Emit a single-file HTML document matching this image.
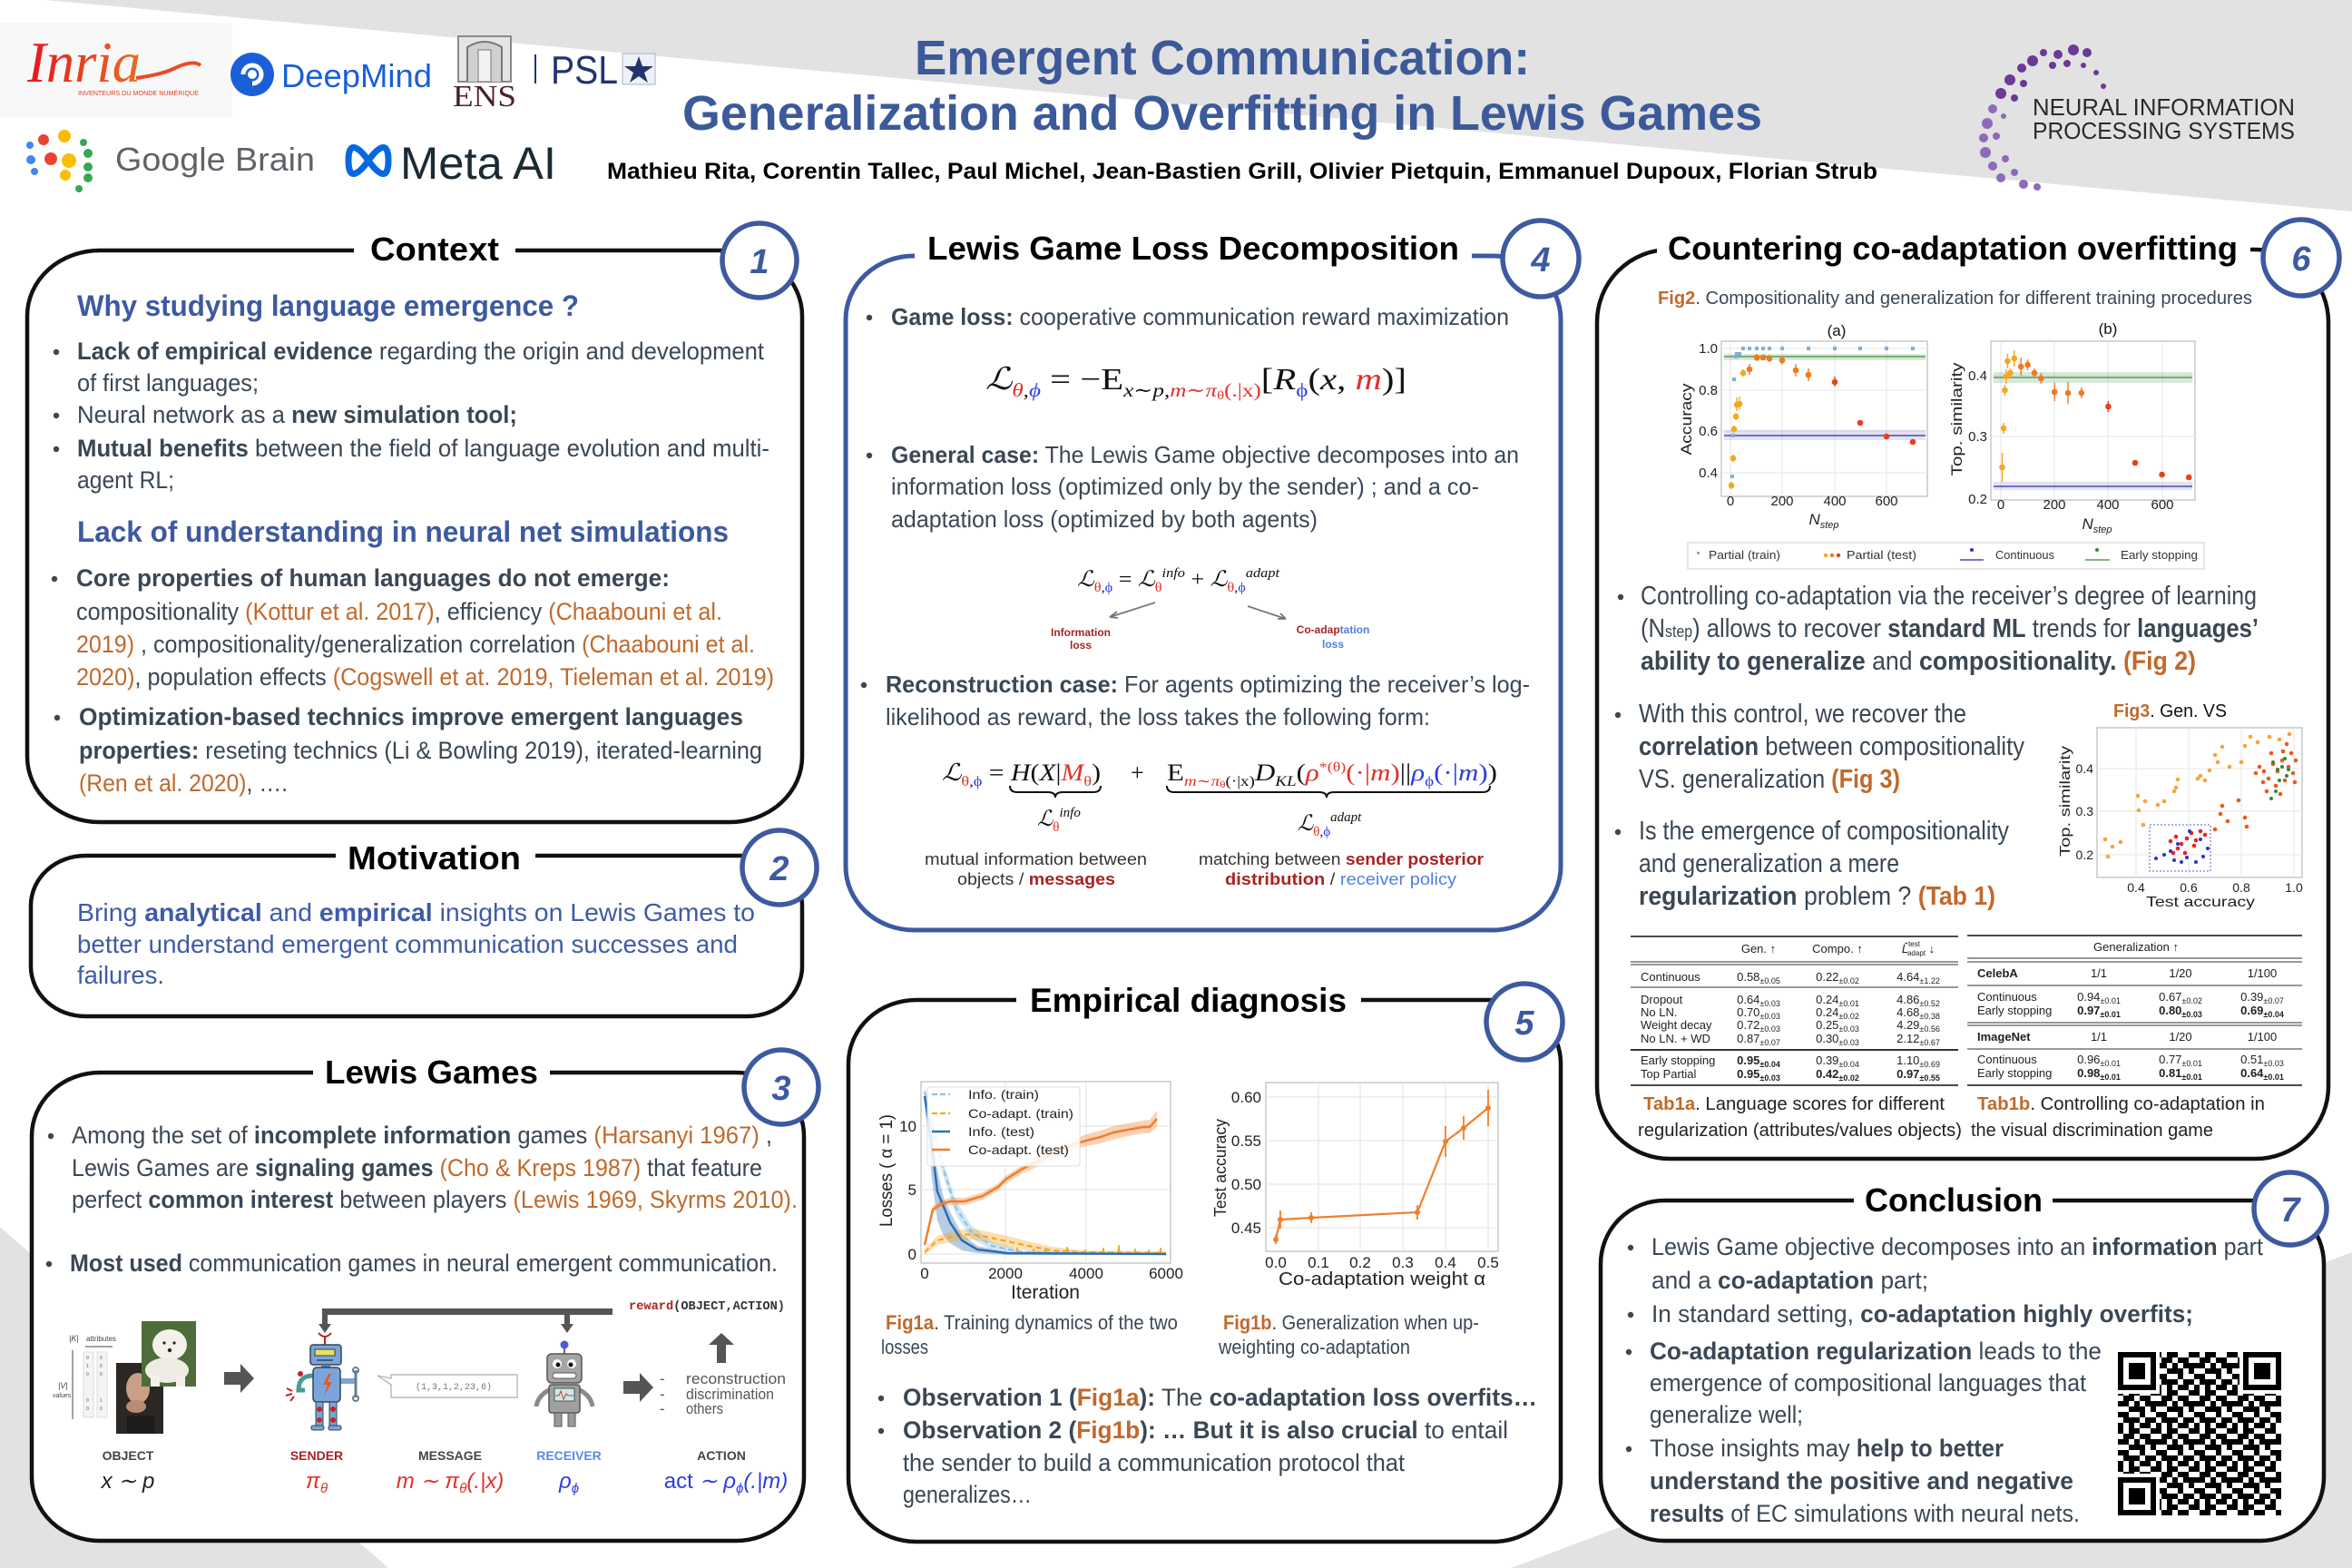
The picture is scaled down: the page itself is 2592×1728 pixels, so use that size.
<!DOCTYPE html>
<html><head><meta charset="utf-8"><style>
body{margin:0;background:#fff}svg{display:block}
text{font-family:"Liberation Sans",sans-serif}
.b{font-weight:bold}.o{fill:#c0692c}.bl{fill:#3d5aa0}.r{fill:#e0302a}.u{fill:#2b3de0}.dr{fill:#a82323}.lb{fill:#4f7fe0}
.ser{font-family:"Liberation Serif","DejaVu Serif",serif}
.mono{font-family:"Liberation Mono",monospace}
.k{fill:#000}
</style></head><body>
<svg xmlns="http://www.w3.org/2000/svg" width="2592" height="1728" viewBox="0 0 2592 1728">
<defs>
<pattern id="qr" width="42" height="42" patternUnits="userSpaceOnUse" x="2334" y="1490">
<path fill="#000" d="M0 0h6v6h-6zM12 0h6v6h-6zM18 0h6v6h-6zM36 0h6v6h-6zM6 6h6v6h-6zM12 6h6v6h-6zM24 6h6v6h-6zM30 6h6v6h-6zM0 12h6v6h-6zM6 12h6v6h-6zM18 12h6v6h-6zM30 12h6v6h-6zM36 12h6v6h-6zM12 18h6v6h-6zM18 18h6v6h-6zM24 18h6v6h-6zM36 18h6v6h-6zM0 24h6v6h-6zM6 24h6v6h-6zM24 24h6v6h-6zM6 30h6v6h-6zM12 30h6v6h-6zM18 30h6v6h-6zM30 30h6v6h-6zM36 30h6v6h-6zM0 36h6v6h-6zM12 36h6v6h-6zM24 36h6v6h-6zM30 36h6v6h-6z"/>
</pattern>
<linearGradient id="inr" x1="0" x2="1"><stop offset="0" stop-color="#e4151f"/><stop offset="1" stop-color="#ef6b24"/></linearGradient>
</defs>

<!-- background -->
<rect width="2592" height="1728" fill="#e2e2e2"/>
<polygon points="0,0 50,0 2592,233 2592,1380 1652,1733 428,1728 0,1352" fill="#fff"/>

<!-- ===== HEADER LOGOS ===== -->
<rect x="0" y="25" width="256" height="105" fill="#f8f8f8"/>
<text x="30" y="90" font-size="64" class="ser" font-style="italic" fill="url(#inr)" textLength="125" lengthAdjust="spacingAndGlyphs">Inria</text>
<path d="M150 86 q30 -4 45 -12 q18 -8 26 -2" stroke="#ec4a22" stroke-width="4" fill="none"/>
<text x="86" y="105" font-size="7" fill="#e23a22" textLength="133" lengthAdjust="spacingAndGlyphs">INVENTEURS DU MONDE NUMÉRIQUE</text>

<circle cx="278" cy="82" r="24" fill="#1b5fd8"/>
<path d="M268 82 a10 10 0 1 1 10 10" stroke="#fff" stroke-width="5" fill="none"/>
<circle cx="278" cy="82" r="5" fill="#fff"/>
<text x="310" y="96" font-size="36" fill="#1b5fd8" textLength="166" lengthAdjust="spacingAndGlyphs">DeepMind</text>

<rect x="505" y="40" width="58" height="50" fill="#e5e5e5" stroke="#8a8a8a" stroke-width="2"/>
<path d="M515 90 v-38 q19 -12 38 0 v38" fill="#d0d0d0" stroke="#777" stroke-width="2"/>
<rect x="527" y="55" width="14" height="35" fill="#f2f2f2" stroke="#777"/>
<text x="499" y="117" font-size="34" class="ser" fill="#4a1f35" textLength="70" lengthAdjust="spacingAndGlyphs">ENS</text>
<rect x="589" y="60" width="2" height="32" fill="#23336e"/>
<text x="607" y="92" font-size="44" fill="#23336e" textLength="74" lengthAdjust="spacingAndGlyphs">PSL</text>
<rect x="686" y="59" width="36" height="34" fill="#eef1f7" stroke="#aab3c8"/>
<polygon points="704,62 708,73 720,73 710,80 714,91 704,84 694,91 698,80 688,73 700,73" fill="#23336e"/>

<g>
<circle cx="33" cy="160" r="4" fill="#4285f4"/><circle cx="48" cy="154" r="6" fill="#ea4335"/><circle cx="71" cy="150" r="7" fill="#fbbc04"/><circle cx="92" cy="157" r="4" fill="#34a853"/>
<circle cx="34" cy="176" r="5" fill="#4285f4"/><circle cx="56" cy="175" r="7" fill="#ea4335"/><circle cx="76" cy="177" r="8" fill="#fbbc04"/><circle cx="97" cy="169" r="5" fill="#34a853"/>
<circle cx="38" cy="189" r="4" fill="#4285f4"/><circle cx="72" cy="193" r="6" fill="#fbbc04"/><circle cx="97" cy="184" r="5" fill="#34a853"/><circle cx="97" cy="196" r="5" fill="#34a853"/><circle cx="87" cy="208" r="4" fill="#34a853"/>
</g>
<text x="127" y="188" font-size="36" fill="#5f6368" textLength="220" lengthAdjust="spacingAndGlyphs">Google Brain</text>
<path d="M384 177 c0 -24 12 -14 22 0 c10 14 22 24 22 0 c0 -24 -12 -14 -22 0 c-10 14 -22 24 -22 0z" fill="none" stroke="#0668e1" stroke-width="7"/>
<text x="441" y="197" font-size="50" fill="#1c2b33" textLength="172" lengthAdjust="spacingAndGlyphs">Meta AI</text>

<!-- NeurIPS -->
<g fill="#6a3a94">
<circle cx="2300" cy="58" r="5"/><circle cx="2285" cy="55" r="6"/><circle cx="2268" cy="60" r="5"/><circle cx="2252" cy="58" r="4"/><circle cx="2240" cy="67" r="6"/><circle cx="2228" cy="75" r="5"/><circle cx="2262" cy="72" r="4"/><circle cx="2278" cy="70" r="4"/><circle cx="2296" cy="72" r="3"/><circle cx="2310" cy="80" r="3"/><circle cx="2318" cy="95" r="3"/>
<circle cx="2215" cy="88" r="6"/><circle cx="2230" cy="92" r="4"/><circle cx="2205" cy="103" r="6"/><circle cx="2220" cy="108" r="4"/>
</g>
<g fill="#8e6ab8">
<circle cx="2196" cy="120" r="5"/><circle cx="2190" cy="136" r="6"/><circle cx="2208" cy="128" r="3"/><circle cx="2186" cy="152" r="5"/><circle cx="2200" cy="150" r="4"/><circle cx="2188" cy="168" r="6"/><circle cx="2196" cy="183" r="5"/><circle cx="2210" cy="175" r="4"/><circle cx="2205" cy="196" r="5"/><circle cx="2220" cy="190" r="4"/><circle cx="2230" cy="203" r="5"/><circle cx="2245" cy="206" r="4"/>
</g>
<text x="2240" y="127" font-size="26" fill="#2a2a2a" textLength="289" lengthAdjust="spacingAndGlyphs">NEURAL INFORMATION</text>
<text x="2240" y="153" font-size="26" fill="#2a2a2a" textLength="289" lengthAdjust="spacingAndGlyphs">PROCESSING SYSTEMS</text>

<!-- Title -->
<text x="1008" y="82" font-size="54" class="b" fill="#3c5a9a" textLength="678" lengthAdjust="spacingAndGlyphs">Emergent Communication:</text>
<text x="752" y="143" font-size="54" class="b" fill="#3c5a9a" textLength="1190" lengthAdjust="spacingAndGlyphs">Generalization and Overfitting in Lewis Games</text>
<text x="669" y="197" font-size="25" class="b" fill="#000" textLength="1400" lengthAdjust="spacingAndGlyphs">Mathieu Rita, Corentin Tallec, Paul Michel, Jean-Bastien Grill, Olivier Pietquin, Emmanuel Dupoux, Florian Strub</text>

<!-- ===== PANEL BOXES ===== -->
<g stroke="#111" stroke-width="4.5">
<rect x="30" y="276" width="854" height="630" rx="80" ry="72" fill="#fff"/>
<rect x="34" y="943" width="850" height="177" rx="60" ry="55" fill="#fff"/>
<rect x="35" y="1182" width="851" height="516" rx="75" ry="70" fill="#fff"/>
<rect x="935" y="1102" width="785" height="597" rx="75" ry="70" fill="#fff"/>
<rect x="1760" y="275" width="806" height="1002" rx="80" ry="80" fill="#fff"/>
<rect x="1764" y="1323" width="797" height="375" rx="70" ry="70" fill="#fff"/>
</g>
<rect x="932" y="282" width="788" height="743" rx="75" ry="70" fill="#fff" stroke="#3d5aa0" stroke-width="5"/>

<!-- title masks -->
<g fill="#fff">
<rect x="390" y="266" width="178" height="20"/>
<rect x="370" y="933" width="220" height="20"/>
<rect x="345" y="1172" width="261" height="20"/>
<rect x="1008" y="272" width="614" height="20"/>
<rect x="1120" y="1092" width="380" height="20"/>
<rect x="1826" y="265" width="654" height="20"/>
<rect x="2043" y="1313" width="219" height="20"/>
</g>

<!-- titles -->
<g font-size="36" class="b" fill="#000">
<text x="408" y="287" textLength="142" lengthAdjust="spacingAndGlyphs">Context</text>
<text x="383" y="958" textLength="191" lengthAdjust="spacingAndGlyphs">Motivation</text>
<text x="358" y="1194" textLength="235" lengthAdjust="spacingAndGlyphs">Lewis Games</text>
<text x="1022" y="286" textLength="586" lengthAdjust="spacingAndGlyphs">Lewis Game Loss Decomposition</text>
<text x="1135" y="1115" font-size="37" textLength="349" lengthAdjust="spacingAndGlyphs">Empirical diagnosis</text>
<text x="1838" y="286" textLength="628" lengthAdjust="spacingAndGlyphs">Countering co-adaptation overfitting</text>
<text x="2055" y="1335" textLength="196" lengthAdjust="spacingAndGlyphs">Conclusion</text>
</g>

<!-- number circles -->
<g fill="#fff" stroke="#3d5aa0" stroke-width="5.5">
<circle cx="837" cy="287" r="41"/>
<circle cx="859" cy="956" r="41"/>
<circle cx="861" cy="1198" r="41"/>
<circle cx="1698" cy="285" r="42"/>
<circle cx="1680" cy="1126" r="42"/>
<circle cx="2536" cy="284" r="42"/>
<circle cx="2524" cy="1332" r="40"/>
</g>
<g font-size="38" class="b" fill="#3d5aa0" text-anchor="middle" font-style="italic">
<text x="837" y="301">1</text>
<text x="859" y="970">2</text>
<text x="861" y="1212">3</text>
<text x="1698" y="299">4</text>
<text x="1680" y="1140">5</text>
<text x="2536" y="298">6</text>
<text x="2524" y="1346">7</text>
</g>

<!-- ===== PANEL 1 CONTEXT ===== -->
<g fill="#3b4754" font-size="27">
<text x="85" y="348" font-size="32" class="b bl" textLength="553" lengthAdjust="spacingAndGlyphs">Why studying language emergence ?</text>
<text x="85" y="396" textLength="757" lengthAdjust="spacingAndGlyphs"><tspan class="b">Lack of empirical evidence</tspan> regarding the origin and development</text>
<text x="85" y="431" textLength="200" lengthAdjust="spacingAndGlyphs">of first languages;</text>
<text x="85" y="466" textLength="485" lengthAdjust="spacingAndGlyphs">Neural network as a <tspan class="b">new simulation tool;</tspan></text>
<text x="85" y="503" textLength="763" lengthAdjust="spacingAndGlyphs"><tspan class="b">Mutual benefits</tspan> between the field of language evolution and multi-</text>
<text x="85" y="538" textLength="107" lengthAdjust="spacingAndGlyphs">agent RL;</text>
<text x="85" y="597" font-size="32" class="b bl" textLength="718" lengthAdjust="spacingAndGlyphs">Lack of understanding in neural net simulations</text>
<text x="84" y="646" class="b" textLength="654" lengthAdjust="spacingAndGlyphs">Core properties of human languages do not emerge:</text>
<text x="84" y="683" textLength="712" lengthAdjust="spacingAndGlyphs">compositionality <tspan class="o">(Kottur et al. 2017)</tspan>, efficiency <tspan class="o">(Chaabouni et al.</tspan></text>
<text x="84" y="719" textLength="748" lengthAdjust="spacingAndGlyphs"><tspan class="o">2019)</tspan> , compositionality/generalization correlation <tspan class="o">(Chaabouni et al.</tspan></text>
<text x="84" y="755" textLength="769" lengthAdjust="spacingAndGlyphs"><tspan class="o">2020)</tspan>, population effects <tspan class="o">(Cogswell et at. 2019, Tieleman et al. 2019)</tspan></text>
<text x="87" y="799" class="b" textLength="732" lengthAdjust="spacingAndGlyphs">Optimization-based technics improve emergent languages</text>
<text x="87" y="836" textLength="753" lengthAdjust="spacingAndGlyphs"><tspan class="b">properties:</tspan> reseting technics (Li &amp; Bowling 2019), iterated-learning</text>
<text x="87" y="872" textLength="230" lengthAdjust="spacingAndGlyphs"><tspan class="o">(Ren et al. 2020)</tspan>, ….</text>
<circle cx="62" cy="388" r="3.2"/><circle cx="62" cy="458" r="3.2"/><circle cx="62" cy="495" r="3.2"/><circle cx="60" cy="638" r="3.2"/><circle cx="63" cy="791" r="3.2"/>
</g>

<!-- ===== PANEL 2 MOTIVATION ===== -->
<g fill="#3f5ba8" font-size="28">
<text x="85" y="1015" textLength="747" lengthAdjust="spacingAndGlyphs">Bring <tspan class="b">analytical</tspan> and <tspan class="b">empirical</tspan> insights on Lewis Games to</text>
<text x="85" y="1050" textLength="728" lengthAdjust="spacingAndGlyphs">better understand emergent communication successes and</text>
<text x="85" y="1084" textLength="96" lengthAdjust="spacingAndGlyphs">failures.</text>
</g>

<!-- ===== PANEL 3 LEWIS GAMES ===== -->
<g fill="#3b4754" font-size="27">
<text x="79" y="1260" textLength="772" lengthAdjust="spacingAndGlyphs">Among the set of <tspan class="b">incomplete information</tspan> games <tspan class="o">(Harsanyi 1967)</tspan> ,</text>
<text x="79" y="1296" textLength="761" lengthAdjust="spacingAndGlyphs">Lewis Games are <tspan class="b">signaling games</tspan> <tspan class="o">(Cho &amp; Kreps 1987)</tspan> that feature</text>
<text x="79" y="1331" textLength="800" lengthAdjust="spacingAndGlyphs">perfect <tspan class="b">common interest</tspan> between players <tspan class="o">(Lewis 1969, Skyrms 2010).</tspan></text>
<text x="77" y="1401" textLength="780" lengthAdjust="spacingAndGlyphs"><tspan class="b">Most used</tspan> communication games in neural emergent communication.</text>
<circle cx="56" cy="1252" r="3.2"/><circle cx="54" cy="1393" r="3.2"/>
</g>

<!-- diagram -->
<g>
<rect x="355" y="1442" width="320" height="7" fill="#555"/>
<rect x="355" y="1442" width="6" height="18" fill="#555"/>
<polygon points="351,1459 365,1459 358,1469" fill="#555"/>
<rect x="622" y="1442" width="6" height="18" fill="#555"/>
<polygon points="618,1459 632,1459 625,1469" fill="#555"/>
<text x="693" y="1443" font-size="14" class="mono b" fill="#333" textLength="172" lengthAdjust="spacingAndGlyphs"><tspan fill="#a82323">reward</tspan>(OBJECT,ACTION)</text>
<path d="M790 1502 v-20 h-9 l14 -13 l14 13 h-9 v20z" fill="#555"/>
<path d="M247 1512 h18 v-9 l15 16 l-15 16 v-9 h-18z" fill="#555"/>
<path d="M687 1522 h18 v-9 l15 16 l-15 16 v-9 h-18z" fill="#555"/>
<g font-size="17" fill="#555">
<text x="727" y="1525">-</text><text x="727" y="1542">-</text><text x="727" y="1558">-</text>
<text x="756" y="1525" textLength="110" lengthAdjust="spacingAndGlyphs">reconstruction</text>
<text x="756" y="1542" textLength="97" lengthAdjust="spacingAndGlyphs">discrimination</text>
<text x="756" y="1558" textLength="41" lengthAdjust="spacingAndGlyphs">others</text>
</g>
<path d="M431 1515 h139 v25 h-139 v-14 l-15 -10 l15 3z" fill="#fff" stroke="#bbb" stroke-width="1.5"/>
<text x="500" y="1531" font-size="10" class="mono" fill="#777" text-anchor="middle">(1,3,1,2,23,6)</text>

<!-- object matrix -->
<text x="76" y="1478" font-size="9" fill="#444" font-style="italic">|K|</text>
<text x="95" y="1478" font-size="8" fill="#444">attributes</text>
<path d="M94 1484 h30" stroke="#444" stroke-width="1"/>
<path d="M80 1488 v76" stroke="#444" stroke-width="1"/>
<text x="64" y="1530" font-size="9" fill="#444" font-style="italic">|V|</text>
<text x="58" y="1540" font-size="7" fill="#444">values</text>
<rect x="92" y="1490" width="11" height="72" fill="#f4f4f4" stroke="#ddd"/>
<rect x="107" y="1490" width="11" height="72" fill="#f4f4f4" stroke="#ddd"/>
<g font-size="5" fill="#555"><text x="95" y="1498">0</text><text x="95" y="1507">1</text><text x="95" y="1516">0</text><text x="95" y="1545">0</text><text x="95" y="1554">0</text><text x="110" y="1498">0</text><text x="110" y="1507">0</text><text x="110" y="1516">0</text><text x="110" y="1545">1</text><text x="110" y="1554">0</text></g>
<!-- man photo -->
<rect x="128" y="1502" width="52" height="78" fill="#2b2724"/>
<ellipse cx="152" cy="1530" rx="13" ry="17" fill="#c9a085"/>
<ellipse cx="150" cy="1550" rx="11" ry="7" fill="#b88d72"/>
<rect x="140" y="1560" width="30" height="20" fill="#1e1c1a"/>
<!-- dog photo -->
<rect x="156" y="1456" width="60" height="72" fill="#4f6d3b"/>
<ellipse cx="187" cy="1482" rx="19" ry="17" fill="#f4f1ea"/>
<ellipse cx="184" cy="1510" rx="24" ry="14" fill="#eeebe2"/>
<rect x="166" y="1516" width="10" height="12" fill="#f4f1ea"/><rect x="194" y="1516" width="10" height="12" fill="#f4f1ea"/>
<circle cx="181" cy="1480" r="1.6" fill="#222"/><circle cx="192" cy="1480" r="1.6" fill="#222"/><circle cx="187" cy="1488" r="2.2" fill="#222"/>

<!-- sender robot -->
<path d="M358 1482 v-10 M351 1469 q7 8 14 0" stroke="#b22" fill="none" stroke-width="2"/>
<rect x="342" y="1482" width="34" height="22" rx="3" fill="#7aa5da" stroke="#345" stroke-width="1.5"/>
<rect x="347" y="1487" width="22" height="7" fill="#e8e060" stroke="#345" stroke-width="1"/>
<path d="M349 1499 h18" stroke="#345" stroke-width="1.5"/>
<rect x="354" y="1504" width="10" height="4" fill="#5a7fb0"/>
<path d="M345 1516 q-16 0 -16 16 h7" stroke="#4a9a9a" stroke-width="5" fill="none"/>
<circle cx="331" cy="1514" r="3" fill="#c22"/><path d="M322 1533 l-6 -3 M322 1536 l-7 2 M324 1539 l-4 5" stroke="#c22" stroke-width="2"/>
<path d="M375 1522 h17" stroke="#7aa5da" stroke-width="6"/>
<path d="M392 1510 v30" stroke="#6b7d8f" stroke-width="3"/><circle cx="392" cy="1510" r="3" fill="none" stroke="#6b7d8f" stroke-width="2"/><circle cx="392" cy="1541" r="3" fill="none" stroke="#6b7d8f" stroke-width="2"/>
<rect x="345" y="1507" width="30" height="38" rx="4" fill="#7aa5da" stroke="#345" stroke-width="1.5"/>
<path d="M362 1514 l-6 12 h5 l-4 12 l9 -15 h-5 l4 -9z" fill="#e05a2a"/>
<rect x="348" y="1545" width="8" height="28" fill="#7aa5da" stroke="#345"/>
<rect x="363" y="1545" width="8" height="28" fill="#7aa5da" stroke="#345"/>
<circle cx="352" cy="1553" r="3" fill="#c22"/><circle cx="367" cy="1553" r="3" fill="#c22"/><circle cx="352" cy="1565" r="3" fill="#c22"/><circle cx="367" cy="1565" r="3" fill="#c22"/>
<rect x="343" y="1571" width="14" height="5" rx="2" fill="#7aa5da" stroke="#345"/><rect x="362" y="1571" width="14" height="5" rx="2" fill="#7aa5da" stroke="#345"/>

<!-- receiver robot -->
<path d="M622 1484 v8" stroke="#666" stroke-width="2"/>
<circle cx="622" cy="1482" r="4.5" fill="#4a5ad8"/>
<rect x="603" y="1492" width="38" height="32" rx="5" fill="#a5a5a5" stroke="#555" stroke-width="1.5"/>
<circle cx="614" cy="1503" r="5" fill="#fff"/><circle cx="630" cy="1503" r="5" fill="#fff"/>
<circle cx="615" cy="1504" r="2.5" fill="#111"/><circle cx="629" cy="1504" r="2.5" fill="#111"/>
<rect x="609" y="1513" width="26" height="6" rx="3" fill="#fff" stroke="#555"/>
<path d="M605 1532 q-12 6 -14 18 M639 1532 q12 6 14 18" stroke="#8a8a8a" stroke-width="5" fill="none"/>
<rect x="605" y="1526" width="34" height="31" rx="3" fill="#a0a0a0" stroke="#555" stroke-width="1.5"/>
<rect x="611" y="1530" width="22" height="14" fill="#c6ecec" stroke="#555"/>
<path d="M612 1538 l4 0 l2 -5 l3 9 l3 -6 l2 2 l6 0" stroke="#d33" fill="none" stroke-width="1"/>
<rect x="611" y="1557" width="8" height="15" fill="#9a9a9a" stroke="#555"/><rect x="626" y="1557" width="8" height="15" fill="#9a9a9a" stroke="#555"/>

<!-- labels -->
<g font-size="14" class="mono b" text-anchor="middle">
<text x="141" y="1609" fill="#444">OBJECT</text>
<text x="349" y="1609" fill="#a82323">SENDER</text>
<text x="496" y="1609" fill="#444">MESSAGE</text>
<text x="627" y="1609" fill="#5a8ae8">RECEIVER</text>
<text x="795" y="1609" fill="#444">ACTION</text>
</g>
<g font-size="24" class="ser" font-style="italic" text-anchor="middle">
<text x="141" y="1640" fill="#222">x ∼ p</text>
<text x="349" y="1640" fill="#e0302a">π<tspan font-size="15" dy="5">θ</tspan></text>
<text x="496" y="1640" fill="#e0302a">m ∼ π<tspan font-size="15" dy="5">θ</tspan><tspan dy="-5">(.|x)</tspan></text>
<text x="627" y="1640" fill="#2b3de0">ρ<tspan font-size="15" dy="5">ϕ</tspan></text>
<text x="800" y="1640" fill="#2b3de0"><tspan font-style="normal">act</tspan> ∼ ρ<tspan font-size="15" dy="5">ϕ</tspan><tspan dy="-5">(.|m)</tspan></text>
</g>
</g>

<!-- ===== PANEL 4 DECOMPOSITION ===== -->
<g fill="#3b4754" font-size="26">
<text x="982" y="358" textLength="681" lengthAdjust="spacingAndGlyphs"><tspan class="b">Game loss:</tspan> cooperative communication reward maximization</text>
<text x="982" y="510" textLength="692" lengthAdjust="spacingAndGlyphs"><tspan class="b">General case:</tspan> The Lewis Game objective decomposes into an</text>
<text x="982" y="545" textLength="648" lengthAdjust="spacingAndGlyphs">information loss (optimized only by the sender) ; and a co-</text>
<text x="982" y="581" textLength="470" lengthAdjust="spacingAndGlyphs">adaptation loss (optimized by both agents)</text>
<text x="976" y="763" textLength="710" lengthAdjust="spacingAndGlyphs"><tspan class="b">Reconstruction case:</tspan> For agents optimizing the receiver’s log-</text>
<text x="976" y="799" textLength="600" lengthAdjust="spacingAndGlyphs">likelihood as reward, the loss takes the following form:</text>
<circle cx="958" cy="350" r="3.2"/><circle cx="958" cy="502" r="3.2"/><circle cx="952" cy="755" r="3.2"/>
</g>
<text x="1086" y="429" class="ser" font-size="34" fill="#111" textLength="464" lengthAdjust="spacingAndGlyphs"><tspan font-style="italic">ℒ</tspan><tspan font-size="21" dy="8" fill="#e0302a" font-style="italic">θ</tspan><tspan font-size="21" dy="0">,</tspan><tspan font-size="21" fill="#2b3de0" font-style="italic">ϕ</tspan><tspan dy="-8"> = −E</tspan><tspan font-size="21" dy="8" font-style="italic">x∼p,</tspan><tspan font-size="21" fill="#e0302a" font-style="italic">m∼π</tspan><tspan font-size="14" dy="3" fill="#e0302a">θ</tspan><tspan font-size="21" dy="-3" fill="#e0302a">(.|x)</tspan><tspan dy="-8">[</tspan><tspan font-style="italic">R</tspan><tspan font-size="21" dy="8" fill="#2b3de0">ϕ</tspan><tspan dy="-8">(</tspan><tspan font-style="italic">x</tspan><tspan>, </tspan><tspan fill="#e0302a" font-style="italic">m</tspan><tspan>)]</tspan></text>
<text x="1187" y="646" class="ser" font-size="24" fill="#111" textLength="223" lengthAdjust="spacingAndGlyphs"><tspan font-style="italic">ℒ</tspan><tspan font-size="15" dy="6" fill="#e0302a">θ</tspan><tspan font-size="15">,</tspan><tspan font-size="15" fill="#2b3de0">ϕ</tspan><tspan dy="-6"> = </tspan><tspan font-style="italic">ℒ</tspan><tspan font-size="15" dy="6" fill="#e0302a">θ</tspan><tspan font-size="15" dy="-16" font-style="italic">info</tspan><tspan dy="10"> + </tspan><tspan font-style="italic">ℒ</tspan><tspan font-size="15" dy="6" fill="#e0302a">θ</tspan><tspan font-size="15">,</tspan><tspan font-size="15" fill="#2b3de0">ϕ</tspan><tspan font-size="15" dy="-16" font-style="italic">adapt</tspan></text>
<path d="M1273 664 L1223 680 M1223 680 l8 -6 M1223 680 l9 1" stroke="#777" stroke-width="1.8" fill="none"/>
<path d="M1375 668 L1417 682 M1417 682 l-9 0 M1417 682 l-6 -6" stroke="#777" stroke-width="1.8" fill="none"/>
<g font-size="12" class="b" text-anchor="middle">
<text x="1191" y="701" class="dr">Information</text>
<text x="1191" y="715" class="dr">loss</text>
<text x="1469" y="698"><tspan class="dr">Co-adap</tspan><tspan class="lb">tation</tspan></text>
<text x="1469" y="714" class="lb">loss</text>
</g>
<text x="1038" y="860" class="ser" font-size="26" fill="#111" textLength="175" lengthAdjust="spacingAndGlyphs"><tspan font-style="italic">ℒ</tspan><tspan font-size="16" dy="6" fill="#e0302a">θ</tspan><tspan font-size="16">,</tspan><tspan font-size="16" fill="#2b3de0">ϕ</tspan><tspan dy="-6"> = </tspan><tspan font-style="italic">H</tspan><tspan>(</tspan><tspan font-style="italic">X</tspan><tspan>|</tspan><tspan fill="#e0302a" font-style="italic">M</tspan><tspan font-size="16" dy="6" fill="#e0302a">θ</tspan><tspan dy="-6">)</tspan></text>
<text x="1246" y="860" class="ser" font-size="26" fill="#111">+</text>
<text x="1286" y="860" class="ser" font-size="26" fill="#111" textLength="364" lengthAdjust="spacingAndGlyphs"><tspan>E</tspan><tspan font-size="16" dy="6" fill="#e0302a" font-style="italic">m∼π</tspan><tspan font-size="11" dy="2" fill="#e0302a">θ</tspan><tspan font-size="16" dy="-2">(·|x)</tspan><tspan dy="-6" font-style="italic">D</tspan><tspan font-size="16" dy="6" font-style="italic">KL</tspan><tspan dy="-6">(</tspan><tspan fill="#e0302a" font-style="italic">ρ</tspan><tspan font-size="15" dy="-10" fill="#e0302a">*(θ)</tspan><tspan dy="10" fill="#e0302a">(·|</tspan><tspan fill="#e0302a" font-style="italic">m</tspan><tspan fill="#e0302a">)</tspan><tspan>||</tspan><tspan fill="#2b3de0" font-style="italic">ρ</tspan><tspan font-size="16" dy="6" fill="#2b3de0">ϕ</tspan><tspan dy="-6" fill="#2b3de0">(·|</tspan><tspan fill="#2b3de0" font-style="italic">m</tspan><tspan fill="#2b3de0">)</tspan><tspan>)</tspan></text>
<path d="M1113 866 q0 7 8 7 h34 q8 0 8 6 q0 -6 8 -6 h34 q8 0 8 -7" stroke="#111" stroke-width="2" fill="none"/>
<path d="M1286 866 q0 7 8 7 h160 q8 0 8 6 q0 -6 8 -6 h164 q8 0 8 -7" stroke="#111" stroke-width="2" fill="none"/>
<text x="1143" y="910" class="ser" font-size="24" fill="#111"><tspan font-style="italic">ℒ</tspan><tspan font-size="15" dy="6" fill="#e0302a">θ</tspan><tspan font-size="15" dy="-16" font-style="italic">info</tspan></text>
<text x="1430" y="915" class="ser" font-size="24" fill="#111"><tspan font-style="italic">ℒ</tspan><tspan font-size="15" dy="6" fill="#e0302a">θ</tspan><tspan font-size="15">,</tspan><tspan font-size="15" fill="#2b3de0">ϕ</tspan><tspan font-size="15" dy="-16" font-style="italic">adapt</tspan></text>
<g font-size="18" fill="#333">
<text x="1019" y="953" textLength="245" lengthAdjust="spacingAndGlyphs">mutual information between</text>
<text x="1055" y="975" textLength="174" lengthAdjust="spacingAndGlyphs">objects / <tspan class="b dr">messages</tspan></text>
<text x="1321" y="953" textLength="314" lengthAdjust="spacingAndGlyphs">matching between <tspan class="b dr">sender posterior</tspan></text>
<text x="1350" y="975" textLength="255" lengthAdjust="spacingAndGlyphs"><tspan class="b dr">distribution</tspan> / <tspan class="lb">receiver policy</tspan></text>
</g>

<!-- ===== PANEL 5 EMPIRICAL ===== -->
<!-- Fig1a -->
<g>
<rect x="1015" y="1192" width="275" height="200" fill="#fff" stroke="#bbb" stroke-width="1.2"/>
<g stroke="#e6e6e6" stroke-width="1.2">
<path d="M1108 1192v200M1197 1192v200M1015 1382h275M1015 1311h275M1015 1241h275"/>
</g>
<polygon points="1019,1200 1027,1240 1033,1290 1040,1320 1047,1335 1060,1360 1077,1373 1110,1380 1285,1381 1285,1383 1110,1383 1077,1381 1060,1378 1047,1370 1040,1362 1033,1345 1027,1300 1019,1215" fill="#2f6db5" opacity="0.35"/>
<polygon points="1019,1198 1037,1272 1053,1322 1070,1350 1093,1368 1127,1378 1285,1381 1285,1383 1127,1382 1093,1378 1070,1364 1053,1338 1037,1288 1019,1208" fill="#8cc4e8" opacity="0.4"/>
<polygon points="1019,1376 1033,1362 1053,1356 1070,1354 1087,1357 1110,1362 1133,1368 1160,1374 1193,1378 1285,1379 1285,1383 1193,1382 1160,1382 1133,1378 1110,1374 1087,1369 1070,1366 1053,1368 1033,1372 1019,1383" fill="#f5a623" opacity="0.35"/>
<polygon points="1019,1368 1028,1329 1037,1323 1047,1320 1063,1320 1083,1314 1100,1304 1108,1296 1127,1284 1147,1273 1167,1263 1187,1254 1197,1250 1213,1246 1227,1241 1243,1238 1260,1235 1267,1234 1275,1224 1275,1242 1267,1249 1260,1249 1243,1252 1227,1256 1213,1260 1197,1263 1187,1266 1167,1274 1147,1284 1127,1293 1108,1304 1100,1312 1083,1322 1063,1328 1047,1328 1037,1330 1028,1337 1019,1375" fill="#f07f2a" opacity="0.35"/>
<polyline points="1019,1203 1037,1280 1053,1330 1070,1357 1093,1373 1127,1380 1285,1382" fill="none" stroke="#8cc4e8" stroke-width="2.2" stroke-dasharray="6,4"/>
<polyline points="1019,1380 1033,1367 1053,1362 1070,1360 1087,1363 1110,1368 1133,1373 1160,1378 1193,1380 1285,1381" fill="none" stroke="#f5a623" stroke-width="2.2" stroke-dasharray="6,4"/>
<path d="M1150 1381 l2 -5 l2 5 M1175 1381 l1 -7 l2 7 M1195 1381 l1 -4 l1 4 M1215 1381 l1 -6 l1 6 M1232 1381 l1 -9 l1 9 M1250 1381 l1 -5 l1 5 M1265 1381 l1 -4 l1 4 M1278 1381 l1 -6 l1 6 M1120 1380 l1 -5 l1 5 M1138 1380 l1 -4 l1 4" stroke="#f5a623" stroke-width="1.3" fill="none"/>
<polyline points="1019,1208 1027,1263 1033,1313 1047,1347 1060,1367 1077,1377 1110,1381 1285,1382" fill="none" stroke="#2f6db5" stroke-width="2.5"/>
<polyline points="1019,1372 1028,1333 1037,1327 1047,1324 1063,1324 1083,1318 1100,1308 1108,1300 1127,1288 1147,1278 1167,1268 1187,1260 1197,1257 1213,1253 1227,1248 1243,1245 1260,1242 1267,1242 1275,1233" fill="none" stroke="#f07f2a" stroke-width="2.5"/>
<rect x="1022" y="1198" width="168" height="87" rx="3" fill="#fff" fill-opacity="0.85" stroke="#ddd"/>
<path d="M1027 1206h20" stroke="#8cc4e8" stroke-width="2.2" stroke-dasharray="6,3"/>
<path d="M1027 1227h20" stroke="#f5a623" stroke-width="2.2" stroke-dasharray="6,3"/>
<path d="M1027 1247h20" stroke="#2f6db5" stroke-width="2.5"/>
<path d="M1027 1267h20" stroke="#f07f2a" stroke-width="2.5"/>
<g font-size="14" fill="#222">
<text x="1067" y="1211" textLength="78" lengthAdjust="spacingAndGlyphs">Info. (train)</text>
<text x="1067" y="1232" textLength="116" lengthAdjust="spacingAndGlyphs">Co-adapt. (train)</text>
<text x="1067" y="1252" textLength="73" lengthAdjust="spacingAndGlyphs">Info. (test)</text>
<text x="1067" y="1272" textLength="111" lengthAdjust="spacingAndGlyphs">Co-adapt. (test)</text>
</g>
<g font-size="17" fill="#222">
<text x="1010" y="1388" text-anchor="end">0</text>
<text x="1010" y="1317" text-anchor="end">5</text>
<text x="1010" y="1247" text-anchor="end">10</text>
<text x="1019" y="1409" text-anchor="middle">0</text>
<text x="1108" y="1409" text-anchor="middle">2000</text>
<text x="1197" y="1409" text-anchor="middle">4000</text>
<text x="1285" y="1409" text-anchor="middle">6000</text>
<text x="1152" y="1431" text-anchor="middle" font-size="21">Iteration</text>
<text transform="translate(983 1290) rotate(-90)" text-anchor="middle" font-size="19" textLength="124" lengthAdjust="spacingAndGlyphs">Losses ( α = 1)</text>
</g>
</g>
<!-- Fig1b -->
<g>
<rect x="1395" y="1193" width="256" height="186" fill="#fff" stroke="#bbb" stroke-width="1.2"/>
<g stroke="#e6e6e6" stroke-width="1.2">
<path d="M1453 1193v186M1499 1193v186M1546 1193v186M1593 1193v186M1640 1193v186M1395 1209h256M1395 1257h256M1395 1305h256M1395 1353h256"/>
</g>
<polyline points="1406,1366 1411,1344 1445,1342 1562,1336 1593,1258 1613,1243 1640,1221" fill="none" stroke="#f07f2a" stroke-width="2.2"/>
<g stroke="#f07f2a" stroke-width="1.8">
<path d="M1406 1361v10M1411 1334v20M1445 1336v12M1562 1328v16M1593 1241v34M1613 1230v26M1640 1201v40"/>
</g>
<g fill="#f07f2a"><circle cx="1406" cy="1366" r="3"/><circle cx="1411" cy="1344" r="3"/><circle cx="1445" cy="1342" r="3"/><circle cx="1562" cy="1336" r="3"/><circle cx="1593" cy="1258" r="3"/><circle cx="1613" cy="1243" r="3"/><circle cx="1640" cy="1221" r="3"/></g>
<g font-size="17" fill="#222">
<text x="1390" y="1215" text-anchor="end">0.60</text>
<text x="1390" y="1263" text-anchor="end">0.55</text>
<text x="1390" y="1311" text-anchor="end">0.50</text>
<text x="1390" y="1359" text-anchor="end">0.45</text>
<text x="1406" y="1397" text-anchor="middle">0.0</text>
<text x="1453" y="1397" text-anchor="middle">0.1</text>
<text x="1499" y="1397" text-anchor="middle">0.2</text>
<text x="1546" y="1397" text-anchor="middle">0.3</text>
<text x="1593" y="1397" text-anchor="middle">0.4</text>
<text x="1640" y="1397" text-anchor="middle">0.5</text>
<text x="1409" y="1416" font-size="20" textLength="228" lengthAdjust="spacingAndGlyphs">Co-adaptation weight α</text>
<text transform="translate(1351 1287) rotate(-90)" text-anchor="middle" font-size="18" textLength="108" lengthAdjust="spacingAndGlyphs">Test accuracy</text>
</g>
</g>
<g fill="#3b4754" font-size="22">
<text x="976" y="1465" textLength="322" lengthAdjust="spacingAndGlyphs"><tspan class="b o">Fig1a</tspan>. Training dynamics of the two</text>
<text x="971" y="1492" textLength="52" lengthAdjust="spacingAndGlyphs">losses</text>
<text x="1348" y="1465" textLength="282" lengthAdjust="spacingAndGlyphs"><tspan class="b o">Fig1b</tspan>. Generalization when up-</text>
<text x="1343" y="1492" textLength="211" lengthAdjust="spacingAndGlyphs">weighting co-adaptation</text>
</g>
<g fill="#3b4754" font-size="27">
<text x="995" y="1549" textLength="699" lengthAdjust="spacingAndGlyphs"><tspan class="b">Observation 1 (</tspan><tspan class="b o">Fig1a</tspan><tspan class="b">):</tspan> The <tspan class="b">co-adaptation loss overfits…</tspan></text>
<text x="995" y="1585" textLength="667" lengthAdjust="spacingAndGlyphs"><tspan class="b">Observation 2 (</tspan><tspan class="b o">Fig1b</tspan><tspan class="b">): … But it is also crucial</tspan> to entail</text>
<text x="995" y="1621" textLength="553" lengthAdjust="spacingAndGlyphs">the sender to build a communication protocol that</text>
<text x="995" y="1656" textLength="142" lengthAdjust="spacingAndGlyphs">generalizes…</text>
<circle cx="971" cy="1541" r="3.2"/><circle cx="971" cy="1577" r="3.2"/>
</g>

<!-- ===== PANEL 6 COUNTERING ===== -->
<text x="1827" y="335" font-size="20" fill="#3b4754" textLength="655" lengthAdjust="spacingAndGlyphs"><tspan class="b o">Fig2</tspan>. Compositionality and generalization for different training procedures</text>
<!-- Fig2a -->
<g>
<text x="2024" y="370" font-size="17" fill="#111" text-anchor="middle">(a)</text>
<text x="2323" y="368" font-size="17" fill="#111" text-anchor="middle">(b)</text>
<rect x="1897" y="376" width="227" height="171" fill="#fff" stroke="#bbb" stroke-width="1.2"/>
<g stroke="#e6e6e6" stroke-width="1.1"><path d="M1907 376v171M1964 376v171M2022 376v171M2079 376v171M1897 384h227M1897 430h227M1897 475h227M1897 521h227"/></g>
<rect x="1900" y="390" width="222" height="7" fill="#6aa86a" opacity="0.25"/>
<path d="M1900 393h222" stroke="#5a9a5a" stroke-width="1.6"/>
<rect x="1900" y="474" width="222" height="11" fill="#6d6fc8" opacity="0.2"/>
<path d="M1900 480h222" stroke="#4a4cb0" stroke-width="1.6"/>
<g fill="#7fb0d8">
<rect x="1907" y="523" width="4" height="4"/><rect x="1908" y="478" width="4" height="4"/><rect x="1909" y="416" width="4" height="4"/><rect x="1911" y="391" width="4" height="4"/><rect x="1912" y="388" width="4" height="4"/><rect x="1914" y="388" width="4" height="4"/><rect x="1915" y="388" width="4" height="4"/><rect x="1919" y="382" width="4" height="4"/><rect x="1926" y="382" width="4" height="4"/><rect x="1934" y="382" width="4" height="4"/><rect x="1941" y="382" width="4" height="4"/><rect x="1948" y="382" width="4" height="4"/><rect x="1962" y="382" width="4" height="4"/><rect x="1991" y="382" width="4" height="4"/><rect x="2020" y="382" width="4" height="4"/><rect x="2048" y="382" width="4" height="4"/><rect x="2077" y="382" width="4" height="4"/><rect x="2106" y="382" width="4" height="4"/>
</g>
<g stroke-width="1.4">
<g stroke="#f5a623" fill="#f5a623">
<path d="M1908 531v8M1910 501v8M1911 469v8M1913 455v8M1914 438v15M1917 437v15M1921 407v8"/>
<circle cx="1908" cy="535" r="2.6"/><circle cx="1910" cy="505" r="2.6"/><circle cx="1911" cy="473" r="2.6"/><circle cx="1913" cy="459" r="2.6"/><circle cx="1914" cy="446" r="2.6"/><circle cx="1917" cy="445" r="2.6"/><circle cx="1921" cy="411" r="2.6"/>
</g>
<g stroke="#ee7a22" fill="#ee7a22">
<path d="M1928 401v12M1936 390v8M1943 391v6M1950 391v8M1964 392v10M1979 401v14M1993 406v14"/>
<circle cx="1928" cy="407" r="2.6"/><circle cx="1936" cy="394" r="2.6"/><circle cx="1943" cy="394" r="2.6"/><circle cx="1950" cy="395" r="2.6"/><circle cx="1964" cy="397" r="2.6"/><circle cx="1979" cy="408" r="2.6"/><circle cx="1993" cy="413" r="2.6"/>
</g>
<g stroke="#e8401c" fill="#e8401c">
<path d="M2022 415v11M2050 463v6M2079 478v6M2108 484v6"/>
<circle cx="2022" cy="421" r="2.6"/><circle cx="2050" cy="466" r="2.6"/><circle cx="2079" cy="481" r="2.6"/><circle cx="2108" cy="487" r="2.6"/>
</g>
</g>
<g font-size="15" fill="#222">
<text x="1893" y="389" text-anchor="end">1.0</text><text x="1893" y="435" text-anchor="end">0.8</text><text x="1893" y="480" text-anchor="end">0.6</text><text x="1893" y="526" text-anchor="end">0.4</text>
<text x="1907" y="557" text-anchor="middle">0</text><text x="1964" y="557" text-anchor="middle">200</text><text x="2022" y="557" text-anchor="middle">400</text><text x="2079" y="557" text-anchor="middle">600</text>
<text x="2010" y="578" text-anchor="middle" font-size="17" font-style="italic">N<tspan font-size="11" dy="4">step</tspan></text>
<text transform="translate(1864 462) rotate(-90)" text-anchor="middle" font-size="17" textLength="79" lengthAdjust="spacingAndGlyphs">Accuracy</text>
</g>
</g>
<!-- Fig2b -->
<g>
<rect x="2194" y="376" width="225" height="175" fill="#fff" stroke="#bbb" stroke-width="1.2"/>
<g stroke="#e6e6e6" stroke-width="1.1"><path d="M2205 376v175M2264 376v175M2323 376v175M2383 376v175M2194 414h225M2194 481h225"/></g>
<rect x="2197" y="410" width="219" height="12" fill="#6aa86a" opacity="0.25"/>
<path d="M2197 416h219" stroke="#5a9a5a" stroke-width="1.6"/>
<rect x="2197" y="531" width="219" height="9" fill="#6d6fc8" opacity="0.2"/>
<path d="M2197 536h219" stroke="#4a4cb0" stroke-width="1.6"/>
<g stroke-width="1.4">
<g stroke="#f5a623" fill="#f5a623">
<path d="M2206.5 499v32M2208 466v12M2209.4 424v12M2211 407v16M2212.4 390v16M2215.4 406v10M2219.8 386v18"/>
<circle cx="2206.5" cy="515" r="2.6"/><circle cx="2208" cy="472" r="2.6"/><circle cx="2209.4" cy="430" r="2.6"/><circle cx="2211" cy="415" r="2.6"/><circle cx="2212.4" cy="398" r="2.6"/><circle cx="2215.4" cy="411" r="2.6"/><circle cx="2219.8" cy="395" r="2.6"/>
</g>
<g stroke="#ee7a22" fill="#ee7a22">
<path d="M2227.2 394v20M2234.6 396v12M2242 406v10M2249.4 411v12M2264.2 422v20M2279 421v24M2293.8 427v12"/>
<circle cx="2227.2" cy="404" r="2.6"/><circle cx="2234.6" cy="402" r="2.6"/><circle cx="2242" cy="411" r="2.6"/><circle cx="2249.4" cy="417" r="2.6"/><circle cx="2264.2" cy="432" r="2.6"/><circle cx="2279" cy="433" r="2.6"/><circle cx="2293.8" cy="433" r="2.6"/>
</g>
<g stroke="#e8401c" fill="#e8401c">
<path d="M2323.4 442v12M2353 507v6M2382.6 520v6M2412.2 523v6"/>
<circle cx="2323.4" cy="448" r="2.6"/><circle cx="2353" cy="510" r="2.6"/><circle cx="2382.6" cy="523" r="2.6"/><circle cx="2412.2" cy="526" r="2.6"/>
</g>
</g>
<g font-size="15" fill="#222">
<text x="2190" y="419" text-anchor="end">0.4</text><text x="2190" y="486" text-anchor="end">0.3</text><text x="2190" y="555" text-anchor="end">0.2</text>
<text x="2205" y="561" text-anchor="middle">0</text><text x="2264" y="561" text-anchor="middle">200</text><text x="2323" y="561" text-anchor="middle">400</text><text x="2383" y="561" text-anchor="middle">600</text>
<text x="2311" y="583" text-anchor="middle" font-size="17" font-style="italic">N<tspan font-size="11" dy="4">step</tspan></text>
<text transform="translate(2162 462) rotate(-90)" text-anchor="middle" font-size="17" textLength="125" lengthAdjust="spacingAndGlyphs">Top. similarity</text>
</g>
</g>
<!-- Fig2 legend -->
<rect x="1860" y="598" width="569" height="29" fill="#fff" stroke="#ccc"/>
<rect x="1870" y="608" width="3" height="3" fill="#7fb0d8"/>
<circle cx="2012" cy="612" r="2.2" fill="#f5a623"/><circle cx="2019" cy="612" r="2.2" fill="#ee7a22"/><circle cx="2026" cy="612" r="2.2" fill="#e8401c"/>
<path d="M2160 617h26" stroke="#4a4cb0" stroke-width="1.6"/><circle cx="2173" cy="606" r="2" fill="#2a35c8"/>
<path d="M2298 617h27" stroke="#5a9a5a" stroke-width="1.6"/><circle cx="2311" cy="606" r="2" fill="#2e8b2e"/>
<g font-size="13" fill="#333">
<text x="1883" y="616" textLength="79" lengthAdjust="spacingAndGlyphs">Partial (train)</text>
<text x="2035" y="616" textLength="77" lengthAdjust="spacingAndGlyphs">Partial (test)</text>
<text x="2199" y="616" textLength="65" lengthAdjust="spacingAndGlyphs">Continuous</text>
<text x="2337" y="616" textLength="85" lengthAdjust="spacingAndGlyphs">Early stopping</text>
</g>

<g fill="#3b4754" font-size="29">
<text x="1808" y="666" textLength="679" lengthAdjust="spacingAndGlyphs">Controlling co-adaptation via the receiver’s degree of learning</text>
<text x="1808" y="702" textLength="681" lengthAdjust="spacingAndGlyphs">(N<tspan font-size="18">step</tspan>) allows to recover <tspan class="b">standard ML</tspan> trends for <tspan class="b">languages’</tspan></text>
<text x="1808" y="738" textLength="612" lengthAdjust="spacingAndGlyphs"><tspan class="b">ability to generalize</tspan> and <tspan class="b">compositionality.</tspan> <tspan class="b o">(Fig 2)</tspan></text>
<text x="1806" y="796" textLength="361" lengthAdjust="spacingAndGlyphs">With this control, we recover the</text>
<text x="1806" y="832" textLength="425" lengthAdjust="spacingAndGlyphs"><tspan class="b">correlation</tspan> between compositionality</text>
<text x="1806" y="868" textLength="288" lengthAdjust="spacingAndGlyphs">VS. generalization <tspan class="b o">(Fig 3)</tspan></text>
<text x="1806" y="925" textLength="408" lengthAdjust="spacingAndGlyphs">Is the emergence of compositionality</text>
<text x="1806" y="961" textLength="287" lengthAdjust="spacingAndGlyphs">and generalization a mere</text>
<text x="1806" y="997" textLength="393" lengthAdjust="spacingAndGlyphs"><tspan class="b">regularization</tspan> problem ? <tspan class="b o">(Tab 1)</tspan></text>
<circle cx="1786" cy="658" r="3.2"/><circle cx="1783" cy="788" r="3.2"/><circle cx="1783" cy="917" r="3.2"/>
</g>

<!-- Fig3 -->
<text x="2329" y="790" font-size="20" fill="#111" textLength="125" lengthAdjust="spacingAndGlyphs"><tspan class="b o">Fig3</tspan>. Gen. VS</text>
<rect x="2311" y="802" width="226" height="165" fill="#fff" stroke="#bbb" stroke-width="1.2"/>
<g stroke="#e6e6e6" stroke-width="1.1"><path d="M2354 802v165M2412 802v165M2470 802v165M2528 802v165M2311 847h226M2311 894h226M2311 942h226"/></g>
<g fill="#f7a43a">
<circle cx="2320" cy="925" r="2.3"/><circle cx="2328" cy="933" r="2.3"/><circle cx="2337" cy="928" r="2.3"/><circle cx="2323" cy="944" r="2.3"/><circle cx="2356" cy="877" r="2.3"/><circle cx="2357" cy="893" r="2.3"/><circle cx="2364" cy="883" r="2.3"/><circle cx="2378" cy="887" r="2.3"/><circle cx="2385" cy="883" r="2.3"/><circle cx="2362" cy="909" r="2.3"/><circle cx="2398" cy="868" r="2.3"/><circle cx="2400" cy="859" r="2.3"/><circle cx="2396" cy="872" r="2.3"/><circle cx="2422" cy="858" r="2.3"/><circle cx="2425" cy="855" r="2.3"/><circle cx="2430" cy="860" r="2.3"/><circle cx="2435" cy="849" r="2.3"/><circle cx="2441" cy="832" r="2.3"/><circle cx="2444" cy="840" r="2.3"/><circle cx="2449" cy="823" r="2.3"/><circle cx="2457" cy="845" r="2.3"/><circle cx="2474" cy="822" r="2.3"/><circle cx="2480" cy="812" r="2.3"/><circle cx="2501" cy="812" r="2.3"/><circle cx="2523" cy="809" r="2.3"/><circle cx="2470" cy="840" r="2.3"/><circle cx="2488" cy="818" r="2.3"/><circle cx="2512" cy="815" r="2.3"/>
</g>
<g fill="#ec5a1e">
<circle cx="2490" cy="845" r="2.3"/><circle cx="2495" cy="850" r="2.3"/><circle cx="2500" cy="858" r="2.3"/><circle cx="2505" cy="842" r="2.3"/><circle cx="2510" cy="850" r="2.3"/><circle cx="2515" cy="838" r="2.3"/><circle cx="2518" cy="860" r="2.3"/><circle cx="2522" cy="845" r="2.3"/><circle cx="2527" cy="852" r="2.3"/><circle cx="2530" cy="838" r="2.3"/><circle cx="2508" cy="866" r="2.3"/><circle cx="2498" cy="872" r="2.3"/><circle cx="2513" cy="875" r="2.3"/><circle cx="2525" cy="830" r="2.3"/><circle cx="2520" cy="820" r="2.3"/><circle cx="2486" cy="852" r="2.3"/><circle cx="2494" cy="862" r="2.3"/><circle cx="2503" cy="830" r="2.3"/><circle cx="2529" cy="862" r="2.3"/><circle cx="2516" cy="828" r="2.3"/>
<circle cx="2441" cy="914" r="2.3"/><circle cx="2449" cy="888" r="2.3"/><circle cx="2467" cy="882" r="2.3"/><circle cx="2474" cy="901" r="2.3"/><circle cx="2476" cy="911" r="2.3"/><circle cx="2455" cy="905" r="2.3"/><circle cx="2447" cy="897" r="2.3"/>
</g>
<g fill="#e8241e">
<circle cx="2392" cy="927" r="2.3"/><circle cx="2398" cy="922" r="2.3"/><circle cx="2404" cy="930" r="2.3"/><circle cx="2410" cy="924" r="2.3"/><circle cx="2415" cy="918" r="2.3"/><circle cx="2420" cy="926" r="2.3"/><circle cx="2400" cy="935" r="2.3"/><circle cx="2408" cy="940" r="2.3"/><circle cx="2425" cy="916" r="2.3"/><circle cx="2430" cy="920" r="2.3"/><circle cx="2395" cy="940" r="2.3"/><circle cx="2418" cy="932" r="2.3"/>
</g>
<g fill="#2a35c8">
<circle cx="2376" cy="946" r="2"/><circle cx="2385" cy="942" r="2"/><circle cx="2392" cy="938" r="2"/><circle cx="2400" cy="930" r="2"/><circle cx="2410" cy="945" r="2"/><circle cx="2420" cy="950" r="2"/><circle cx="2428" cy="944" r="2"/><circle cx="2433" cy="935" r="2"/><circle cx="2413" cy="916" r="2"/><circle cx="2425" cy="925" r="2"/><circle cx="2404" cy="950" r="2"/><circle cx="2396" cy="948" r="2"/>
</g>
<g fill="#2e8b2e">
<circle cx="2505" cy="840" r="2"/><circle cx="2510" cy="848" r="2"/><circle cx="2515" cy="845" r="2"/><circle cx="2520" cy="855" r="2"/><circle cx="2512" cy="860" r="2"/><circle cx="2508" cy="872" r="2"/><circle cx="2522" cy="848" r="2"/><circle cx="2518" cy="836" r="2"/><circle cx="2503" cy="880" r="2"/>
</g>
<rect x="2369" y="909" width="67" height="51" fill="none" stroke="#5560c0" stroke-width="1" stroke-dasharray="2,2"/>
<g font-size="14" fill="#222">
<text x="2307" y="852" text-anchor="end">0.4</text><text x="2307" y="899" text-anchor="end">0.3</text><text x="2307" y="947" text-anchor="end">0.2</text>
<text x="2354" y="983" text-anchor="middle">0.4</text><text x="2412" y="983" text-anchor="middle">0.6</text><text x="2470" y="983" text-anchor="middle">0.8</text><text x="2528" y="983" text-anchor="middle">1.0</text>
<text x="2365" y="999" font-size="16" textLength="120" lengthAdjust="spacingAndGlyphs">Test accuracy</text>
<text transform="translate(2281 883) rotate(-90)" text-anchor="middle" font-size="16" textLength="122" lengthAdjust="spacingAndGlyphs">Top. similarity</text>
</g>

<!-- Tables -->
<g stroke="#333" fill="none">
<path d="M1797 1032h361" stroke-width="1.8"/>
<path d="M1797 1060h361M1797 1063h361M1797 1088h361" stroke-width="1"/>
<path d="M1797 1157h361" stroke-width="2"/>
<path d="M1797 1196h361" stroke-width="1.8"/>
<path d="M2168 1031h369" stroke-width="1.8"/>
<path d="M2168 1056h369M2168 1060h369M2168 1086h369M2168 1127h369M2168 1130h369M2168 1156h369" stroke-width="1"/>
<path d="M2168 1196h369" stroke-width="1.8"/>
</g>
<g class="ser" font-size="13" fill="#222">
<text x="1938" y="1050" text-anchor="middle">Gen. ↑</text>
<text x="2025" y="1050" text-anchor="middle">Compo. ↑</text>
<text x="2114" y="1050" text-anchor="middle"><tspan font-style="italic">L̂</tspan><tspan font-size="8" dy="-7">test</tspan><tspan font-size="8" dx="-14" dy="10">adapt</tspan><tspan dy="-3"> ↓</tspan></text>
<text x="1808" y="1081">Continuous</text>
<text x="1808" y="1106">Dropout</text>
<text x="1808" y="1120">No LN.</text>
<text x="1808" y="1134">Weight decay</text>
<text x="1808" y="1149">No LN. + WD</text>
<text x="1808" y="1173">Early stopping</text>
<text x="1808" y="1188">Top Partial</text>
<g text-anchor="middle">
<text x="1938" y="1081">0.58<tspan font-size="9" dy="3">±0.05</tspan></text>
<text x="2025" y="1081">0.22<tspan font-size="9" dy="3">±0.02</tspan></text>
<text x="2114" y="1081">4.64<tspan font-size="9" dy="3">±1.22</tspan></text>
<text x="1938" y="1106">0.64<tspan font-size="9" dy="3">±0.03</tspan></text>
<text x="2025" y="1106">0.24<tspan font-size="9" dy="3">±0.01</tspan></text>
<text x="2114" y="1106">4.86<tspan font-size="9" dy="3">±0.52</tspan></text>
<text x="1938" y="1120">0.70<tspan font-size="9" dy="3">±0.03</tspan></text>
<text x="2025" y="1120">0.24<tspan font-size="9" dy="3">±0.02</tspan></text>
<text x="2114" y="1120">4.68<tspan font-size="9" dy="3">±0.38</tspan></text>
<text x="1938" y="1134">0.72<tspan font-size="9" dy="3">±0.03</tspan></text>
<text x="2025" y="1134">0.25<tspan font-size="9" dy="3">±0.03</tspan></text>
<text x="2114" y="1134">4.29<tspan font-size="9" dy="3">±0.56</tspan></text>
<text x="1938" y="1149">0.87<tspan font-size="9" dy="3">±0.07</tspan></text>
<text x="2025" y="1149">0.30<tspan font-size="9" dy="3">±0.03</tspan></text>
<text x="2114" y="1149">2.12<tspan font-size="9" dy="3">±0.67</tspan></text>
<text x="1938" y="1173" class="b">0.95<tspan font-size="9" dy="3">±0.04</tspan></text>
<text x="2025" y="1173">0.39<tspan font-size="9" dy="3">±0.04</tspan></text>
<text x="2114" y="1173">1.10<tspan font-size="9" dy="3">±0.69</tspan></text>
<text x="1938" y="1188" class="b">0.95<tspan font-size="9" dy="3">±0.03</tspan></text>
<text x="2025" y="1188" class="b">0.42<tspan font-size="9" dy="3">±0.02</tspan></text>
<text x="2114" y="1188" class="b">0.97<tspan font-size="9" dy="3">±0.55</tspan></text>
<text x="2354" y="1048">Generalization ↑</text>
<text x="2313" y="1077">1/1</text><text x="2403" y="1077">1/20</text><text x="2493" y="1077">1/100</text>
<text x="2313" y="1103">0.94<tspan font-size="9" dy="3">±0.01</tspan></text>
<text x="2403" y="1103">0.67<tspan font-size="9" dy="3">±0.02</tspan></text>
<text x="2493" y="1103">0.39<tspan font-size="9" dy="3">±0.07</tspan></text>
<text x="2313" y="1118" class="b">0.97<tspan font-size="9" dy="3">±0.01</tspan></text>
<text x="2403" y="1118" class="b">0.80<tspan font-size="9" dy="3">±0.03</tspan></text>
<text x="2493" y="1118" class="b">0.69<tspan font-size="9" dy="3">±0.04</tspan></text>
<text x="2313" y="1147">1/1</text><text x="2403" y="1147">1/20</text><text x="2493" y="1147">1/100</text>
<text x="2313" y="1172">0.96<tspan font-size="9" dy="3">±0.01</tspan></text>
<text x="2403" y="1172">0.77<tspan font-size="9" dy="3">±0.01</tspan></text>
<text x="2493" y="1172">0.51<tspan font-size="9" dy="3">±0.03</tspan></text>
<text x="2313" y="1187" class="b">0.98<tspan font-size="9" dy="3">±0.01</tspan></text>
<text x="2403" y="1187" class="b">0.81<tspan font-size="9" dy="3">±0.01</tspan></text>
<text x="2493" y="1187" class="b">0.64<tspan font-size="9" dy="3">±0.01</tspan></text>
</g>
<text x="2179" y="1077" class="b">CelebA</text>
<text x="2179" y="1103">Continuous</text>
<text x="2179" y="1118">Early stopping</text>
<text x="2179" y="1147" class="b">ImageNet</text>
<text x="2179" y="1172">Continuous</text>
<text x="2179" y="1187">Early stopping</text>
</g>
<g fill="#222" font-size="20">
<text x="1811" y="1223" textLength="332" lengthAdjust="spacingAndGlyphs"><tspan class="b o">Tab1a</tspan>. Language scores for different</text>
<text x="1805" y="1252" textLength="357" lengthAdjust="spacingAndGlyphs">regularization (attributes/values objects)</text>
<text x="2179" y="1223" textLength="317" lengthAdjust="spacingAndGlyphs"><tspan class="b o">Tab1b</tspan>. Controlling co-adaptation in</text>
<text x="2172" y="1252" textLength="267" lengthAdjust="spacingAndGlyphs">the visual discrimination game</text>
</g>

<!-- ===== PANEL 7 CONCLUSION ===== -->
<g fill="#3b4754" font-size="27">
<text x="1820" y="1383" textLength="674" lengthAdjust="spacingAndGlyphs">Lewis Game objective decomposes into an <tspan class="b">information</tspan> part</text>
<text x="1820" y="1420" textLength="305" lengthAdjust="spacingAndGlyphs">and a <tspan class="b">co-adaptation</tspan> part;</text>
<text x="1820" y="1457" textLength="597" lengthAdjust="spacingAndGlyphs">In standard setting, <tspan class="b">co-adaptation highly overfits;</tspan></text>
<text x="1818" y="1498" textLength="498" lengthAdjust="spacingAndGlyphs"><tspan class="b">Co-adaptation regularization</tspan> leads to the</text>
<text x="1818" y="1533" textLength="481" lengthAdjust="spacingAndGlyphs">emergence of compositional languages that</text>
<text x="1818" y="1568" textLength="169" lengthAdjust="spacingAndGlyphs">generalize well;</text>
<text x="1818" y="1605" textLength="390" lengthAdjust="spacingAndGlyphs">Those insights may <tspan class="b">help to better</tspan></text>
<text x="1818" y="1641" class="b" textLength="467" lengthAdjust="spacingAndGlyphs">understand the positive and negative</text>
<text x="1818" y="1677" textLength="474" lengthAdjust="spacingAndGlyphs"><tspan class="b">results</tspan> of EC simulations with neural nets.</text>
<circle cx="1797" cy="1375" r="3.2"/><circle cx="1797" cy="1449" r="3.2"/><circle cx="1795" cy="1490" r="3.2"/><circle cx="1795" cy="1597" r="3.2"/>
</g>
<!-- QR -->
<rect x="2334" y="1490" width="180" height="180" fill="url(#qr)"/>
<g>
<rect x="2331" y="1487" width="49" height="49" fill="#fff"/><rect x="2468" y="1487" width="49" height="49" fill="#fff"/><rect x="2331" y="1624" width="49" height="49" fill="#fff"/>
<rect x="2334" y="1490" width="42" height="42" fill="#000"/><rect x="2340" y="1496" width="30" height="30" fill="#fff"/><rect x="2346" y="1502" width="18" height="18" fill="#000"/>
<rect x="2472" y="1490" width="42" height="42" fill="#000"/><rect x="2478" y="1496" width="30" height="30" fill="#fff"/><rect x="2484" y="1502" width="18" height="18" fill="#000"/>
<rect x="2334" y="1628" width="42" height="42" fill="#000"/><rect x="2340" y="1634" width="30" height="30" fill="#fff"/><rect x="2346" y="1640" width="18" height="18" fill="#000"/>
</g>
</svg>
</body></html>
